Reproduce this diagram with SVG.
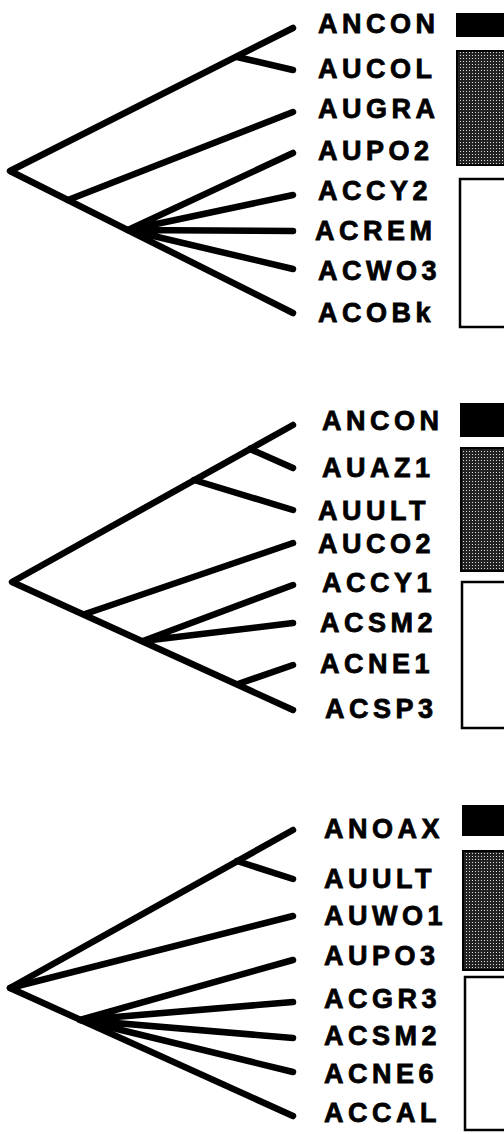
<svg xmlns="http://www.w3.org/2000/svg" width="504" height="1134" viewBox="0 0 504 1134">
<style>
.e{stroke:#000;stroke-width:6.5;stroke-linecap:round;stroke-linejoin:round;fill:none}
.t{font-family:"Liberation Sans",Arial,sans-serif;font-weight:bold;font-size:27px;letter-spacing:4.5px;fill:#000;stroke:#000;stroke-width:0.8}
.blk{fill:#000}
.stp{fill:url(#dots);stroke:#000;stroke-width:2}
.wht{fill:#fff;stroke:#000;stroke-width:2.5}
</style>
<defs>
<pattern id="dots" width="3" height="3" patternUnits="userSpaceOnUse">
<rect width="3" height="3" fill="#222"/>
<rect x="1" y="1" width="1" height="1" fill="#ddd"/>
</pattern>
</defs>
<rect width="504" height="1134" fill="#fff"/>
<g id="connectors">
<path class="e" d="M293,28 L10,171 L293,313"/>
<path class="e" d="M237,57 L293,70"/>
<path class="e" d="M68,200 L293,112"/>
<path class="e" d="M128,230 L293,153 M128,230 L293,195 M128,230 L293,231 M128,230 L293,269"/>
<path class="e" d="M293,425 L12,582 L293,710"/>
<path class="e" d="M250,449 L293,468"/>
<path class="e" d="M194,480 L293,510"/>
<path class="e" d="M85,614 L293,543"/>
<path class="e" d="M143,641 L293,585 M143,641 L293,623"/>
<path class="e" d="M238,684 L293,665"/>
<path class="e" d="M293,830 L10,988 L293,1116"/>
<path class="e" d="M237,861 L293,879"/>
<path class="e" d="M10,988 L293,916"/>
<path class="e" d="M80,1020 L293,960 M80,1020 L293,1002 M80,1020 L293,1038 M80,1020 L293,1072"/>
</g>
<g id="panel1">
<text class="t" x="318" y="33">ANCON</text>
<text class="t" x="318" y="78">AUCOL</text>
<text class="t" x="318" y="118">AUGRA</text>
<text class="t" x="318" y="160">AUPO2</text>
<text class="t" x="318" y="200">ACCY2</text>
<text class="t" x="315" y="240">ACREM</text>
<text class="t" x="318" y="280">ACWO3</text>
<text class="t" x="318" y="322">ACOBk</text>
<rect class="blk" x="456" y="13" width="60" height="24"/>
<rect class="stp" x="457" y="51" width="60" height="114"/>
<rect class="wht" x="460" y="179" width="60" height="148"/>
</g>
<g id="panel2">
<text class="t" x="322" y="430">ANCON</text>
<text class="t" x="322" y="477">AUAZ1</text>
<text class="t" x="318" y="520">AUULT</text>
<text class="t" x="318" y="553">AUCO2</text>
<text class="t" x="322" y="592">ACCY1</text>
<text class="t" x="320" y="632">ACSM2</text>
<text class="t" x="320" y="673">ACNE1</text>
<text class="t" x="325" y="718">ACSP3</text>
<rect class="blk" x="460" y="403" width="60" height="34"/>
<rect class="stp" x="461" y="448" width="60" height="123"/>
<rect class="wht" x="462" y="582" width="60" height="146"/>
</g>
<g id="panel3">
<text class="t" x="324" y="838">ANOAX</text>
<text class="t" x="324" y="888">AUULT</text>
<text class="t" x="324" y="925">AUWO1</text>
<text class="t" x="324" y="965">AUPO3</text>
<text class="t" x="324" y="1008">ACGR3</text>
<text class="t" x="324" y="1045">ACSM2</text>
<text class="t" x="324" y="1083">ACNE6</text>
<text class="t" x="324" y="1122">ACCAL</text>
<rect class="blk" x="462" y="805" width="60" height="31"/>
<rect class="stp" x="463" y="851" width="60" height="119"/>
<rect class="wht" x="465" y="977" width="60" height="153"/>
</g>
</svg>
